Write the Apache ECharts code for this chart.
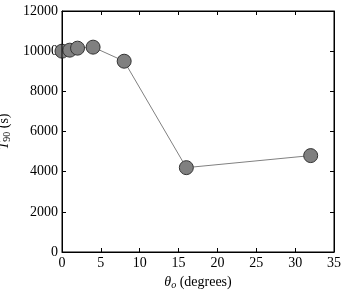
<!DOCTYPE html>
<html><head><meta charset="utf-8">
<script src="https://cdn.jsdelivr.net/npm/echarts@6/dist/echarts.min.js"></script>
<style>html,body{margin:0;padding:0;background:#fff}#c{width:348px;height:290px}</style>
</head><body><div id="c"></div>
<script>
const thetaValues = [0, 1, 2, 4, 8, 16, 32];
const t90Values = [10000, 10050, 10150, 10200, 9500, 4200, 4800];
const xTicks = [0, 5, 10, 15, 20, 25, 30, 35];
const yTicks = [0, 2000, 4000, 6000, 8000, 10000, 12000];

const font = 'Liberation Serif';
const chart = echarts.init(document.getElementById('c'), null, {renderer: 'canvas'});
const tickCommon = {inside: true, length: 4, lineStyle: {color: '#000', width: 1}};
chart.setOption({
  animation: false,
  grid: {left: 62, right: 14, top: 11, bottom: 38, show: true, borderColor: '#000', borderWidth: 1, z: 5,
    containLabel: false, outerBoundsMode: 'none'},
  xAxis: [{
    type: 'value', min: xTicks[0], max: xTicks[xTicks.length - 1], interval: 5,
    axisLine: {show: true, onZero: false, lineStyle: {color: '#000'}},
    axisTick: tickCommon, splitLine: {show: false},
    axisLabel: {color: '#000', fontFamily: font, fontSize: 14, margin: 4, formatter: v => String(v)},
    name: '{i|θ}{s|o} (degrees)', nameLocation: 'middle', nameGap: 22,
    nameTextStyle: {color: '#000', fontFamily: font, fontSize: 14,
      rich: {i: {fontStyle: 'italic', fontFamily: font, fontSize: 14}, s: {fontStyle: 'italic', fontFamily: font, fontSize: 10, padding: [6, 0, 0, 0]}}}
  }, {
    type: 'value', position: 'top', min: 0, max: 35, interval: 5,
    axisLine: {show: true, onZero: false, lineStyle: {color: '#000'}},
    axisTick: tickCommon, axisLabel: {show: false}, splitLine: {show: false}
  }],
  yAxis: [{
    type: 'value', min: yTicks[0], max: yTicks[yTicks.length - 1], interval: 2000,
    axisLine: {show: true, onZero: false, lineStyle: {color: '#000'}},
    axisTick: tickCommon, splitLine: {show: false},
    axisLabel: {color: '#000', fontFamily: font, fontSize: 14, margin: 4, formatter: v => String(v)},
    name: '{i|T}{s|90} (s)', nameLocation: 'middle', nameGap: 37, nameRotate: 90,
    nameTextStyle: {color: '#000', fontFamily: font, fontSize: 14,
      rich: {i: {fontStyle: 'italic', fontFamily: font, fontSize: 14}, s: {fontFamily: font, fontSize: 10, padding: [6, 0, 0, 0]}}}
  }, {
    type: 'value', position: 'right', min: 0, max: 12000, interval: 2000,
    axisLine: {show: true, onZero: false, lineStyle: {color: '#000'}},
    axisTick: tickCommon, axisLabel: {show: false}, splitLine: {show: false}
  }],
  series: [{
    type: 'line', xAxisIndex: 0, yAxisIndex: 0,
    data: thetaValues.map((x, i) => [x, t90Values[i]]),
    symbol: 'circle', symbolSize: 14, showAllSymbol: true,
    lineStyle: {color: '#808080', width: 1},
    itemStyle: {color: '#808080', borderColor: '#333', borderWidth: 1},
    clip: false
  }]
});
</script></body></html>
